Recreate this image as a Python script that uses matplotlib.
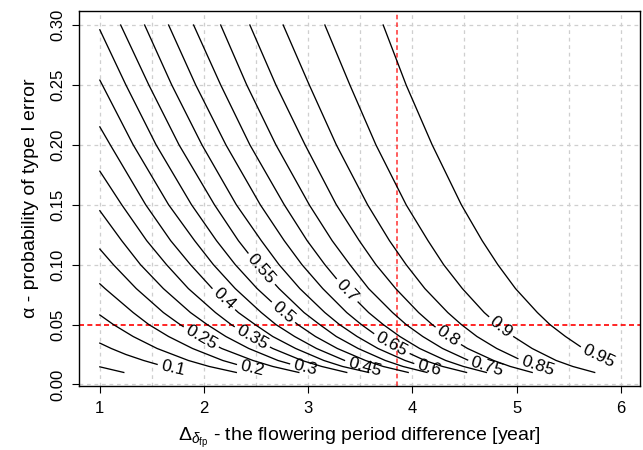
import numpy as np
import matplotlib
matplotlib.use('agg')
import matplotlib.pyplot as plt

plt.rcParams['font.family'] = ['Liberation Sans', 'DejaVu Sans']
plt.rcParams['mathtext.fontset'] = 'custom'
plt.rcParams['mathtext.rm'] = 'Liberation Sans'
plt.rcParams['mathtext.it'] = 'Liberation Sans:italic'

# contour lines (power levels): x = delta [year], y = alpha
alpha_rows = [0.30, 0.25, 0.20, 0.15, 0.12, 0.10, 0.08, 0.06, 0.05, 0.04, 0.03, 0.02, 0.015, 0.01]

p05_x = [1.00, 1.23]
p05_y = [0.0147, 0.010]
p10_x = [1.00, 1.11, 1.25, 1.42, 1.62, 1.90]
p10_y = [0.0345, 0.030, 0.025, 0.020, 0.015, 0.010]
p15_x = [1.00, 1.13, 1.32, 1.55, 1.85, 2.05, 2.31]
p15_y = [0.058, 0.05, 0.04, 0.03, 0.02, 0.015, 0.01]
p20_x = [1.00, 1.05, 1.32, 1.47, 1.66, 1.89, 2.18, 2.38, 2.64]
p20_y = [0.084, 0.08, 0.06, 0.05, 0.04, 0.03, 0.02, 0.015, 0.01]
p25_x = [1.00, 1.13, 1.35, 1.61, 1.77, 1.95, 2.17, 2.47, 2.66, 2.91]
p25_y = [0.113, 0.10, 0.08, 0.06, 0.05, 0.04, 0.03, 0.02, 0.015, 0.01]
p30_x = [1.00, 1.21, 1.39, 1.61, 1.87, 2.03, 2.21, 2.43, 2.71, 2.91, 3.15]
p30_y = [0.145, 0.12, 0.10, 0.08, 0.06, 0.05, 0.04, 0.03, 0.02, 0.015, 0.01]
p35_x = [1.00, 1.21, 1.45, 1.64, 1.85, 2.11, 2.26, 2.44, 2.66, 2.94, 3.13, 3.37]
p35_y = [0.178, 0.15, 0.12, 0.10, 0.08, 0.06, 0.05, 0.04, 0.03, 0.02, 0.015, 0.01]
p40_x = [1.00, 1.10, 1.44, 1.68, 1.87, 2.08, 2.33, 2.49, 2.66, 2.88, 3.15, 3.33, 3.58]
p40_y = [0.215, 0.20, 0.15, 0.12, 0.10, 0.08, 0.06, 0.05, 0.04, 0.03, 0.02, 0.015, 0.01]
p45_x = [1.00, 1.32, 1.66, 1.91, 2.09, 2.30, 2.55, 2.69, 2.87, 3.08, 3.35, 3.53, 3.77]
p45_y = [0.254, 0.20, 0.15, 0.12, 0.10, 0.08, 0.06, 0.05, 0.04, 0.03, 0.02, 0.015, 0.01]
p50_x = [1.00, 1.25, 1.54, 1.88, 2.12, 2.30, 2.51, 2.76, 2.90, 3.07, 3.28, 3.55, 3.72, 3.96]
p50_y = [0.296, 0.25, 0.20, 0.15, 0.12, 0.10, 0.08, 0.06, 0.05, 0.04, 0.03, 0.02, 0.015, 0.01]
p55_x = [1.20, 1.47, 1.76, 2.10, 2.33, 2.51, 2.72, 2.96, 3.11, 3.27, 3.48, 3.74, 3.91, 4.14]
p60_x = [1.43, 1.69, 1.98, 2.31, 2.55, 2.72, 2.92, 3.16, 3.30, 3.47, 3.67, 3.93, 4.10, 4.32]
p65_x = [1.66, 1.92, 2.21, 2.54, 2.77, 2.94, 3.14, 3.37, 3.51, 3.67, 3.87, 4.12, 4.29, 4.52]
p70_x = [1.90, 2.16, 2.44, 2.77, 2.99, 3.16, 3.35, 3.58, 3.72, 3.88, 4.07, 4.32, 4.49, 4.71]
p75_x = [2.16, 2.41, 2.69, 3.01, 3.23, 3.40, 3.58, 3.81, 3.94, 4.10, 4.29, 4.54, 4.70, 4.92]
p80_x = [2.44, 2.69, 2.97, 3.27, 3.49, 3.65, 3.84, 4.06, 4.19, 4.34, 4.53, 4.78, 4.94, 5.15]
p85_x = [2.76, 3.01, 3.27, 3.57, 3.78, 3.94, 4.12, 4.34, 4.47, 4.62, 4.81, 5.05, 5.21, 5.42]
p90_x = [3.16, 3.40, 3.65, 3.94, 4.15, 4.30, 4.48, 4.69, 4.82, 4.97, 5.15, 5.38, 5.54, 5.75]
p95_x = [3.72, 3.94, 4.19, 4.47, 4.67, 4.82, 4.99, 5.20, 5.32, 5.47, 5.64, 5.87, 6.00]
p95_y = [0.30, 0.25, 0.20, 0.15, 0.12, 0.10, 0.08, 0.06, 0.05, 0.04, 0.03, 0.02, 0.0157]

levels = [0.05, 0.10, 0.15, 0.20, 0.25, 0.30, 0.35, 0.40, 0.45, 0.50,
          0.55, 0.60, 0.65, 0.70, 0.75, 0.80, 0.85, 0.90, 0.95]
lines_x = [p05_x, p10_x, p15_x, p20_x, p25_x, p30_x, p35_x, p40_x, p45_x, p50_x,
           p55_x, p60_x, p65_x, p70_x, p75_x, p80_x, p85_x, p90_x, p95_x]
lines_y = [p05_y, p10_y, p15_y, p20_y, p25_y, p30_y, p35_y, p40_y, p45_y, p50_y,
           alpha_rows, alpha_rows, alpha_rows, alpha_rows, alpha_rows,
           alpha_rows, alpha_rows, alpha_rows, p95_y]

# where the level labels sit (x position along each line)
label_levels = [0.10, 0.20, 0.25, 0.30, 0.35, 0.40, 0.45, 0.50, 0.55,
                0.60, 0.65, 0.70, 0.75, 0.80, 0.85, 0.90, 0.95]
label_x = [1.70, 2.46, 1.97, 2.97, 2.46, 2.19, 3.54, 2.76, 2.55,
           4.16, 3.80, 3.37, 4.72, 4.34, 5.20, 4.85, 5.79]

grid_x = [1, 1.5, 2, 2.5, 3, 3.5, 4, 4.5, 5, 5.5, 6]
grid_y = [0, 0.05, 0.10, 0.15, 0.20, 0.25, 0.30]
ref_alpha = 0.05
ref_delta = 3.85

fig = plt.figure(figsize=(6.43, 4.50), dpi=100)
ax = fig.add_axes([79/643, 1 - 386/450, (640 - 79)/643, (386 - 11)/450])
ax.set_xlim(0.8, 6.185)
ax.set_ylim(-0.0013, 0.3117)

for g in grid_x:
    if g != ref_delta:
        ax.axvline(g, color='#cfcfcf', lw=0.9, ls=(0, (3, 3)), zorder=0)
for g in grid_y:
    if g != ref_alpha:
        ax.axhline(g, color='#cfcfcf', lw=0.9, ls=(0, (3, 3)), zorder=0)

trans = ax.transData
inv = trans.inverted()
renderer = fig.canvas.get_renderer()

for lev, xs, ys in zip(levels, lines_x, lines_y):
    xs = np.asarray(xs, float)
    ys = np.asarray(ys, float)
    if lev not in label_levels:
        ax.plot(xs, ys, color='black', lw=0.95, zorder=3)
        continue
    lx = label_x[label_levels.index(lev)]
    pts = trans.transform(np.column_stack([xs, ys]))
    seg = np.hypot(*np.diff(pts, axis=0).T)
    s = np.concatenate([[0], np.cumsum(seg)])
    i = min(max(np.searchsorted(xs, lx) - 1, 0), len(xs) - 2)
    s0 = s[i] + (lx - xs[i]) / (xs[i + 1] - xs[i]) * seg[i]
    t = ax.text(0, 0, f'{lev:g}', fontsize=12.5, family='Liberation Sans',
                ha='center', va='center', rotation_mode='anchor', zorder=4)
    w = t.get_window_extent(renderer).width
    a, b = s0 - w / 2 - 4, s0 + w / 2 + 4

    def at(sv):
        return np.array([np.interp(sv, s, pts[:, 0]), np.interp(sv, s, pts[:, 1])])

    if a > 0:
        part = np.vstack([pts[s < a], at(a)])
        d = inv.transform(part)
        ax.plot(d[:, 0], d[:, 1], color='black', lw=0.95, zorder=3)
    # labels close to the end of a line sit on its end, no short tail
    if s[-1] - b > 22:
        part = np.vstack([at(b), pts[s > b]])
        d = inv.transform(part)
        ax.plot(d[:, 0], d[:, 1], color='black', lw=0.95, zorder=3)
    pa, pb = at(max(a, 0)), at(min(b, s[-1]))
    ang = np.degrees(np.arctan2(pb[1] - pa[1], pb[0] - pa[0]))
    t.set_position(inv.transform(at(s0)))
    t.set_rotation(ang)

ax.axhline(ref_alpha, color='#ff0000', lw=1.2, ls=(0, (3, 2)), zorder=2)
ax.axvline(ref_delta, color='#ff3030', lw=1.1, ls=(0, (3, 2)), zorder=2)

ax.set_xticks([1, 2, 3, 4, 5, 6])
ax.set_yticks(grid_y)
ax.set_yticklabels(['0.00', '0.05', '0.10', '0.15', '0.20', '0.25', '0.30'])
ax.tick_params(direction='out', length=5, width=0.8, labelsize=12, colors='black')
ax.tick_params(axis='x', pad=6)
ax.tick_params(axis='y', pad=5)
for lab in ax.get_yticklabels():
    lab.set_rotation(90)
    lab.set_va('center')
for sp in ax.spines.values():
    sp.set_linewidth(1.0)

ax.set_xlabel(r'$\Delta_{\delta_{\mathrm{fp}}}$ - the flowering period difference [year]', fontsize=14)
ax.xaxis.set_label_coords(0.5, -0.105)
ax.set_ylabel('α - probability of type I error', fontsize=14)
ax.yaxis.label.set_va('center')
ax.yaxis.set_label_coords(-0.087, 0.5)

fig.savefig('out.png', dpi=100)
